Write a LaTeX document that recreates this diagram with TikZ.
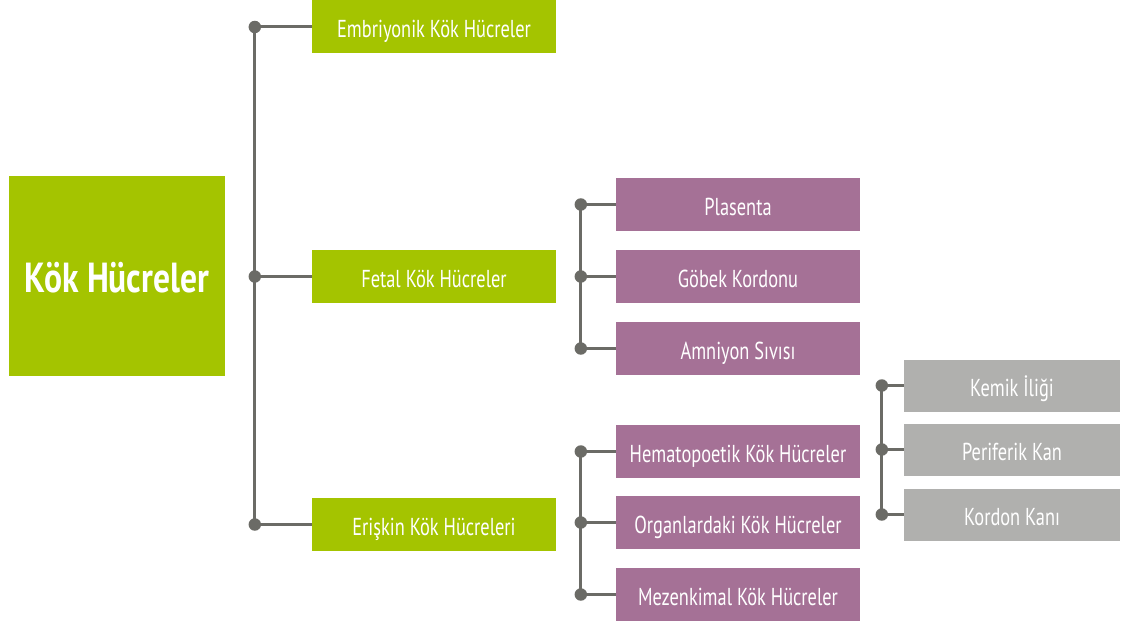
\documentclass[tikz,border=0pt]{standalone}
\usepackage{fontspec}
\setmainfont[FakeStretch=0.75]{PT Sans}
\newfontfamily\rootfont[FakeStretch=0.8]{PT Sans}
\definecolor{kgreen}{RGB}{164,196,0}
\definecolor{kpurple}{RGB}{165,113,150}
\definecolor{kgray}{RGB}{176,176,174}
\definecolor{kline}{RGB}{107,107,102}
\tikzset{
  box/.style={draw=none,inner sep=0pt,text=white,font=\fontsize{24.5}{28}\selectfont,text height=21pt,text depth=0pt},
  lvlone/.style={box,fill=kgreen,minimum width=244pt,minimum height=53pt},
  lvltwo/.style={box,fill=kpurple,minimum width=244pt,minimum height=53pt},
  lvlthree/.style={box,fill=kgray,minimum width=216pt,minimum height=52pt},
  conn/.style={draw=kline,line width=3pt},
  dot/.style={circle,fill=kline,inner sep=0pt,minimum size=12.5pt}
}
\begin{document}
\begin{tikzpicture}[x=1pt,y=-1pt]
\useasboundingbox (0,0) rectangle (1128,623);
% root
\node[box,fill=kgreen,minimum width=216pt,minimum height=200pt,text height=32pt,font=\rootfont\fontsize{42}{46}\selectfont\bfseries] (root) at (117,276) {Kök Hücreler};
% level 1
\node[lvlone] (emb) at (434,27) {Embriyonik Kök Hücreler};
\node[lvlone] (fet) at (434,276.5) {Fetal Kök Hücreler};
\node[lvlone] (eri) at (434,524.5) {Erişkin Kök Hücreleri};
% level 2
\node[lvltwo] (pla) at (738,204.5) {Plasenta};
\node[lvltwo] (gob) at (738,276.5) {Göbek Kordonu};
\node[lvltwo] (amn) at (738,348.5) {Amniyon Sıvısı};
\node[lvltwo] (hem) at (738,451.5) {Hematopoetik Kök Hücreler};
\node[lvltwo] (org) at (738,522.5) {Organlardaki Kök Hücreler};
\node[lvltwo] (mez) at (738,594.5) {Mezenkimal Kök Hücreler};
% level 3
\node[lvlthree] (kem) at (1012,385.5) {Kemik İliği};
\node[lvlthree] (per) at (1012,449.5) {Periferik Kan};
\node[lvlthree] (kor) at (1012,514.5) {Kordon Kanı};
% junction points
\path (emb.west) ++(-57,0) coordinate (ja);
\path (fet.west) ++(-57,0) coordinate (jb);
\path (eri.west) ++(-57,0) coordinate (jc);
\path (pla.west) ++(-35,0) coordinate (jd);
\path (gob.west) ++(-35,0) coordinate (je);
\path (amn.west) ++(-35,0) coordinate (jf);
\path (hem.west) ++(-35,0) coordinate (jg);
\path (org.west) ++(-35,0) coordinate (jh);
\path (mez.west) ++(-35,0) coordinate (ji);
\path (kem.west) ++(-22,0) coordinate (jj);
\path (per.west) ++(-22,0) coordinate (jk);
\path (kor.west) ++(-22,0) coordinate (jl);
% trunks
\draw[conn] (ja) -- (jc);
\draw[conn] (jd) -- (jf);
\draw[conn] (jg) -- (ji);
\draw[conn] (jj) -- (jl);
% branches
\draw[conn] (ja) -- (emb.west);
\draw[conn] (jb) -- (fet.west);
\draw[conn] (jc) -- (eri.west);
\draw[conn] (jd) -- (pla.west);
\draw[conn] (je) -- (gob.west);
\draw[conn] (jf) -- (amn.west);
\draw[conn] (jg) -- (hem.west);
\draw[conn] (jh) -- (org.west);
\draw[conn] (ji) -- (mez.west);
\draw[conn] (jj) -- (kem.west);
\draw[conn] (jk) -- (per.west);
\draw[conn] (jl) -- (kor.west);
% dots
\foreach \j in {ja,jb,jc,jd,je,jf,jg,jh,ji,jj,jk,jl}
  \node[dot] (dot-\j) at (\j) {};
\end{tikzpicture}
\end{document}
